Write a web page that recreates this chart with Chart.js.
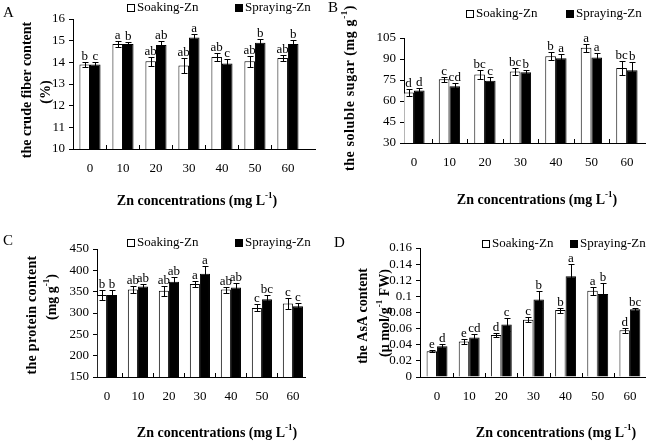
<!DOCTYPE html>
<html>
<head>
<meta charset="utf-8">
<script src="https://cdn.jsdelivr.net/npm/chart.js@4.4.1/dist/chart.umd.min.js"></script>
<style>
  html, body { margin: 0; padding: 0; background: #fff; }
  #wrap { position: relative; width: 650px; height: 445px; }
  #wrap canvas { position: absolute; left: 0; top: 0; }
</style>
</head>
<body>
<div id="wrap">
  <canvas id="chartA" width="650" height="445"></canvas>
  <canvas id="chartB" width="650" height="445"></canvas>
  <canvas id="chartC" width="650" height="445"></canvas>
  <canvas id="chartD" width="650" height="445"></canvas>
</div>
<script>
// categories
const concentrations = ['0', '10', '20', '30', '40', '50', '60'];

// A - crude fiber (%)
const fiberSoaking = [13.9, 14.85, 14.05, 13.85, 14.25, 14.05, 14.2];
const fiberSoakingErr = [0.12, 0.12, 0.2, 0.33, 0.2, 0.25, 0.15];
const fiberSpraying = [13.9, 14.85, 14.8, 15.15, 13.95, 14.9, 14.85];
const fiberSprayingErr = [0.12, 0.1, 0.17, 0.15, 0.2, 0.17, 0.2];
const fiberSoakingSig = ['b', 'a', 'ab', 'ab', 'ab', 'ab', 'ab'];
const fiberSprayingSig = ['c', 'b', 'ab', 'a', 'c', 'b', 'b'];

// B - soluble sugar (mg g-1)
const sugarSoaking = [66, 75.5, 79, 81, 92, 98, 83.5];
const sugarSoakingErr = [2.5, 2, 3, 2.5, 3, 3, 5];
const sugarSpraying = [67.5, 70.5, 74.5, 80.5, 90.5, 91, 82];
const sugarSprayingErr = [2, 2.5, 2.5, 1.5, 3, 3, 6];
const sugarSoakingSig = ['d', 'c', 'bc', 'bc', 'b', 'a', 'bc'];
const sugarSprayingSig = ['d', 'cd', 'c', 'b', 'a', 'a', 'b'];

// C - protein (mg g-1)
const proteinSoaking = [342, 355, 352, 368, 355, 312, 322];
const proteinSoakingErr = [12, 8, 12, 8, 7, 8, 12];
const proteinSpraying = [342, 362, 373, 392, 360, 332, 316];
const proteinSprayingErr = [12, 7, 12, 17, 10, 10, 8];
const proteinSoakingSig = ['b', 'ab', 'ab', 'a', 'ab', 'c', 'c'];
const proteinSprayingSig = ['b', 'ab', 'ab', 'a', 'ab', 'bc', 'c'];

// D - AsA (umol/g FW)
const asaSoaking = [0.032, 0.044, 0.052, 0.071, 0.083, 0.107, 0.058];
const asaSoakingErr = [0.001, 0.003, 0.002, 0.003, 0.003, 0.005, 0.003];
const asaSpraying = [0.038, 0.049, 0.065, 0.096, 0.125, 0.103, 0.084];
const asaSprayingErr = [0.003, 0.004, 0.008, 0.011, 0.015, 0.014, 0.002];
const asaSoakingSig = ['e', 'e', 'd', 'c', 'b', 'a', 'd'];
const asaSprayingSig = ['d', 'cd', 'c', 'b', 'a', 'b', 'bc'];

const SERIF = '"Liberation Serif", "Times New Roman", serif';
const xTitle = [{ t: 'Zn concentrations (mg L' }, { t: '-1', sup: true }, { t: ')' }];

function fontStr(size, bold) {
  return (bold ? 'bold ' : '') + size + 'px ' + SERIF;
}

// draws text made of normal and superscript pieces, centred on x
function richText(ctx, segs, x, y, size, bold) {
  let total = 0;
  segs.forEach(s => {
    ctx.font = fontStr(s.sup ? Math.round(size * 0.65) : size, bold);
    s.w = ctx.measureText(s.t).width;
    total += s.w;
  });
  let cx = x - total / 2;
  ctx.textAlign = 'left';
  ctx.textBaseline = 'middle';
  segs.forEach(s => {
    ctx.font = fontStr(s.sup ? Math.round(size * 0.65) : size, bold);
    ctx.fillText(s.t, cx, s.sup ? y - size * 0.35 : y);
    cx += s.w;
  });
}

function makePanel(id, p) {
  const toPts = arr => arr.map((v, i) => ({ x: i, y: v }));

  const extras = {
    id: 'extras' + id,
    afterDatasetsDraw(chart) {
      const ctx = chart.ctx;
      const y = chart.scales.y;
      const sets = [[p.soak, p.soakErr, p.soakSig], [p.spray, p.sprayErr, p.spraySig]];
      ctx.save();
      ctx.strokeStyle = '#000';
      ctx.fillStyle = '#000';
      ctx.lineWidth = 1;
      sets.forEach((set, di) => {
        chart.getDatasetMeta(di).data.forEach((bar, i) => {
          const v = set[0][i], e = set[1][i];
          const bx = Math.round(bar.x) + 0.5;
          const yt = Math.round(y.getPixelForValue(v + e)) + 0.5;
          const yb = Math.round(y.getPixelForValue(v - e)) + 0.5;
          ctx.beginPath();
          ctx.moveTo(bx, yb); ctx.lineTo(bx, yt);
          ctx.moveTo(bx - 3, yt); ctx.lineTo(bx + 3, yt);
          ctx.moveTo(bx - 3, yb); ctx.lineTo(bx + 3, yb);
          ctx.stroke();
          ctx.font = fontStr(13, false);
          ctx.textAlign = 'center';
          ctx.textBaseline = 'alphabetic';
          ctx.fillText(set[2][i], bar.x, yt - 3);
        });
      });
      // small inward ticks between categories
      const x = chart.scales.x;
      const bottom = chart.chartArea.bottom;
      ctx.beginPath();
      for (let i = 0; i < concentrations.length - 1; i++) {
        const tx = Math.round(x.getPixelForValue(i + 0.5)) + 0.5;
        ctx.moveTo(tx, bottom); ctx.lineTo(tx, bottom - 4);
      }
      ctx.stroke();
      ctx.restore();
    },
    afterDraw(chart) {
      const ctx = chart.ctx;
      ctx.save();
      ctx.fillStyle = '#000';
      // panel letter
      ctx.font = fontStr(15, false);
      ctx.textAlign = 'left';
      ctx.textBaseline = 'alphabetic';
      ctx.fillText(p.letter, p.letterX, p.letterY);
      // legend
      const lg = p.legend;
      ctx.strokeStyle = '#000';
      ctx.lineWidth = 1;
      ctx.strokeRect(lg.x1 + 0.5, lg.y - 3.5, 7, 7);
      ctx.fillRect(lg.x2, lg.y - 4, 8, 8);
      ctx.font = fontStr(13, false);
      ctx.textBaseline = 'middle';
      ctx.fillText('Soaking-Zn', lg.x1 + 10, lg.y);
      ctx.fillText('Spraying-Zn', lg.x2 + 10, lg.y);
      // x title
      richText(ctx, xTitle, p.xTitleX, p.xTitleY, 14, true);
      // y titles (rotated)
      p.yTitles.forEach(line => {
        ctx.save();
        ctx.translate(line.x, line.y);
        ctx.rotate(-Math.PI / 2);
        ctx.letterSpacing = (line.spacing || 0) + 'px';
        richText(ctx, line.segs, 0, 0, 14, true);
        ctx.restore();
      });
      ctx.restore();
    }
  };

  new Chart(document.getElementById(id), {
    type: 'bar',
    data: {
      datasets: [
        { label: 'Soaking-Zn', data: toPts(p.soak), backgroundColor: '#fff', borderColor: '#000', borderWidth: 1 },
        { label: 'Spraying-Zn', data: toPts(p.spray), backgroundColor: '#000', borderColor: '#000', borderWidth: 1 }
      ]
    },
    options: {
      responsive: false,
      animation: false,
      layout: { padding: { left: p.left - 60, right: 650 - p.right, top: p.top, bottom: 445 - p.bottom - 30 } },
      datasets: { bar: { categoryPercentage: p.catPct, barPercentage: 1 } },
      plugins: { legend: { display: false }, tooltip: { enabled: false } },
      scales: {
        x: {
          type: 'linear',
          min: p.xMin,
          max: p.xMax,
          offset: false,
          afterBuildTicks: s => { s.ticks = concentrations.map((c, i) => ({ value: i })); },
          afterFit: s => { s.height = 30; },
          grid: { display: false, drawTicks: false, offset: false },
          border: { display: true, color: '#000', width: 1 },
          ticks: {
            padding: 12,
            color: '#000',
            autoSkip: false,
            maxRotation: 0,
            font: { family: SERIF, size: 13 },
            callback: v => concentrations[v]
          }
        },
        y: {
          min: p.yMin,
          max: p.yMax,
          afterFit: s => { s.width = 60; },
          grid: { drawOnChartArea: false, drawTicks: true, tickLength: 4, color: '#000' },
          border: { display: true, color: '#000', width: 1 },
          ticks: {
            stepSize: p.yStep,
            autoSkip: false,
            padding: 4,
            color: '#000',
            font: { family: SERIF, size: 13 },
            callback: v => String(+v.toFixed(3))
          }
        }
      }
    },
    plugins: [extras]
  });
}

makePanel('chartA', {
  soak: fiberSoaking, soakErr: fiberSoakingErr, soakSig: fiberSoakingSig,
  spray: fiberSpraying, sprayErr: fiberSprayingErr, spraySig: fiberSprayingSig,
  left: 73, right: 315, top: 19, bottom: 149, xMin: -0.515, xMax: 6.82, catPct: 0.64,
  yMin: 10, yMax: 16, yStep: 1,
  letter: 'A', letterX: 3, letterY: 17,
  legend: { x1: 127, x2: 235, y: 8 },
  xTitleX: 197, xTitleY: 201,
  yTitles: [
    { x: 27, y: 90, segs: [{ t: 'the crude fiber content' }] },
    { x: 46, y: 92, segs: [{ t: '(%)' }] }
  ]
});

makePanel('chartB', {
  soak: sugarSoaking, soakErr: sugarSoakingErr, soakSig: sugarSoakingSig,
  spray: sugarSpraying, sprayErr: sugarSprayingErr, spraySig: sugarSprayingSig,
  left: 404, right: 645, top: 38, bottom: 143, xMin: -0.28, xMax: 6.51, catPct: 0.6,
  yMin: 30, yMax: 105, yStep: 15,
  letter: 'B', letterX: 328, letterY: 12,
  legend: { x1: 466, x2: 566, y: 14 },
  xTitleX: 537, xTitleY: 200,
  yTitles: [
    { x: 350, y: 88, spacing: 0.6, segs: [{ t: 'the soluble sugar (mg g' }, { t: '-1', sup: true }, { t: ')' }] }
  ]
});

makePanel('chartC', {
  soak: proteinSoaking, soakErr: proteinSoakingErr, soakSig: proteinSoakingSig,
  spray: proteinSpraying, sprayErr: proteinSprayingErr, spraySig: proteinSprayingSig,
  left: 97, right: 305, top: 249, bottom: 377, xMin: -0.32, xMax: 6.39, catPct: 0.65,
  yMin: 150, yMax: 450, yStep: 50,
  letter: 'C', letterX: 3, letterY: 245,
  legend: { x1: 127, x2: 235, y: 243 },
  xTitleX: 217, xTitleY: 433,
  yTitles: [
    { x: 32, y: 315, spacing: 0.3, segs: [{ t: 'the protein content' }] },
    { x: 52, y: 297, segs: [{ t: '(mg g' }, { t: '-1', sup: true }, { t: ')' }] }
  ]
});

makePanel('chartD', {
  soak: asaSoaking, soakErr: asaSoakingErr, soakSig: asaSoakingSig,
  spray: asaSpraying, sprayErr: asaSprayingErr, spraySig: asaSprayingSig,
  left: 420, right: 645, top: 248, bottom: 377, xMin: -0.53, xMax: 6.47, catPct: 0.65,
  yMin: 0, yMax: 0.16, yStep: 0.02,
  letter: 'D', letterX: 334, letterY: 247,
  legend: { x1: 482, x2: 570, y: 244 },
  xTitleX: 556, xTitleY: 433,
  yTitles: [
    { x: 363, y: 316, segs: [{ t: 'the AsA content' }] },
    { x: 385, y: 313, segs: [{ t: '(\u03bc mol/g' }, { t: '-1', sup: true }, { t: ' FW)' }] }
  ]
});
</script>
</body>
</html>
